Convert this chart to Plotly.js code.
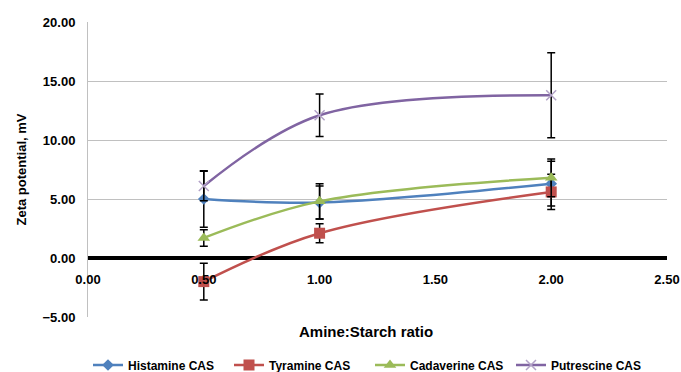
<!DOCTYPE html>
<html><head><meta charset="utf-8">
<script src="https://cdn.plot.ly/plotly-3.0.1.min.js"></script>
<style>html,body{margin:0;padding:0;background:#fff}#c{width:681px;height:372px}</style>
</head><body><div id="c"></div>
<script>
const ratios = [0.5, 1.0, 2.0];
const seriesNames = ['Histamine CAS', 'Tyramine CAS', 'Cadaverine CAS', 'Putrescine CAS'];
const histamine = [5.0, 4.7, 6.3];
const histamineErr = [2.4, 1.4, 1.9];
const tyramine = [-2.0, 2.1, 5.6];
const tyramineErr = [1.55, 0.8, 1.5];
const cadaverine = [1.7, 4.8, 6.8];
const cadaverineErr = [0.7, 1.5, 1.6];
const putrescine = [6.1, 12.1, 13.8];
const putrescineErr = [1.25, 1.8, 3.6];
const xTicks = [0, 0.5, 1.0, 1.5, 2.0, 2.5];
const yTicks = [-5, 0, 5, 10, 15, 20];

const colors = ['#4F81BD', '#C0504D', '#9BBB59', '#8064A2'];
const markers = [
  {symbol: 'diamond', size: 9, color: colors[0]},
  {symbol: 'square', size: 11, color: colors[1]},
  {symbol: 'triangle-up', size: 11, color: colors[2]},
  {symbol: 'x-thin', size: 10, color: '#B3A2C7', line: {color: '#B3A2C7', width: 1.5}}
];
const ys = [histamine, tyramine, cadaverine, putrescine];
const errs = [histamineErr, tyramineErr, cadaverineErr, putrescineErr];

const traces = ys.map((y, i) => ({
  x: ratios, y: y, name: seriesNames[i], type: 'scatter', mode: 'lines+markers',
  line: {color: colors[i], width: 2.5, shape: 'spline', smoothing: 1},
  marker: markers[i],
  error_y: {type: 'data', array: errs[i], visible: true, color: '#000', thickness: 1.5, width: 4}
}));

const font = {family: 'Liberation Sans, Arial, sans-serif', size: 13, color: '#000', weight: 'bold'};
const layout = {
  width: 681, height: 372,
  margin: {l: 88, r: 14, t: 22, b: 55, autoexpand: false},
  paper_bgcolor: '#fff', plot_bgcolor: '#fff',
  font: font,
  showlegend: true,
  legend: {orientation: 'h', x: (88 - 88) / 579, xanchor: 'left', y: (317 - 365) / 295, yanchor: 'middle',
           font: {family: 'Liberation Sans, Arial', size: 12, weight: 'bold', color: '#000'},
           itemwidth: 30, entrywidth: 96, tracegroupgap: 0},
  xaxis: {range: [0, 2.5], tickvals: xTicks, tickformat: '.2f', anchor: 'free', position: 0.2,
          showgrid: false, zeroline: false, showline: false, ticks: '', ticklabelstandoff: 12,
          tickfont: font, automargin: false},
  yaxis: {range: [-5, 20], tickvals: yTicks, tickformat: '.2f', showgrid: true, gridcolor: '#C0C0C0', gridwidth: 1,
          zeroline: true, zerolinecolor: '#000', zerolinewidth: 3.5, automargin: false,
          showline: true, linecolor: '#C0C0C0', linewidth: 1, ticks: '', ticklabelstandoff: 9,
          tickfont: font,
          title: {text: 'Zeta potential, mV', font: {family: 'Liberation Sans, Arial', size: 13, weight: 'bold'}, standoff: 12}},
  annotations: [{text: 'Amine:Starch ratio', xref: 'paper', yref: 'paper', x: (366 - 88) / 579, y: (317 - 331) / 295,
                 xanchor: 'center', yanchor: 'middle', showarrow: false,
                 font: {family: 'Liberation Sans, Arial', size: 15, weight: 'bold', color: '#000'}}]
};
Plotly.newPlot('c', traces, layout, {displayModeBar: false, staticPlot: true});
</script></body></html>
